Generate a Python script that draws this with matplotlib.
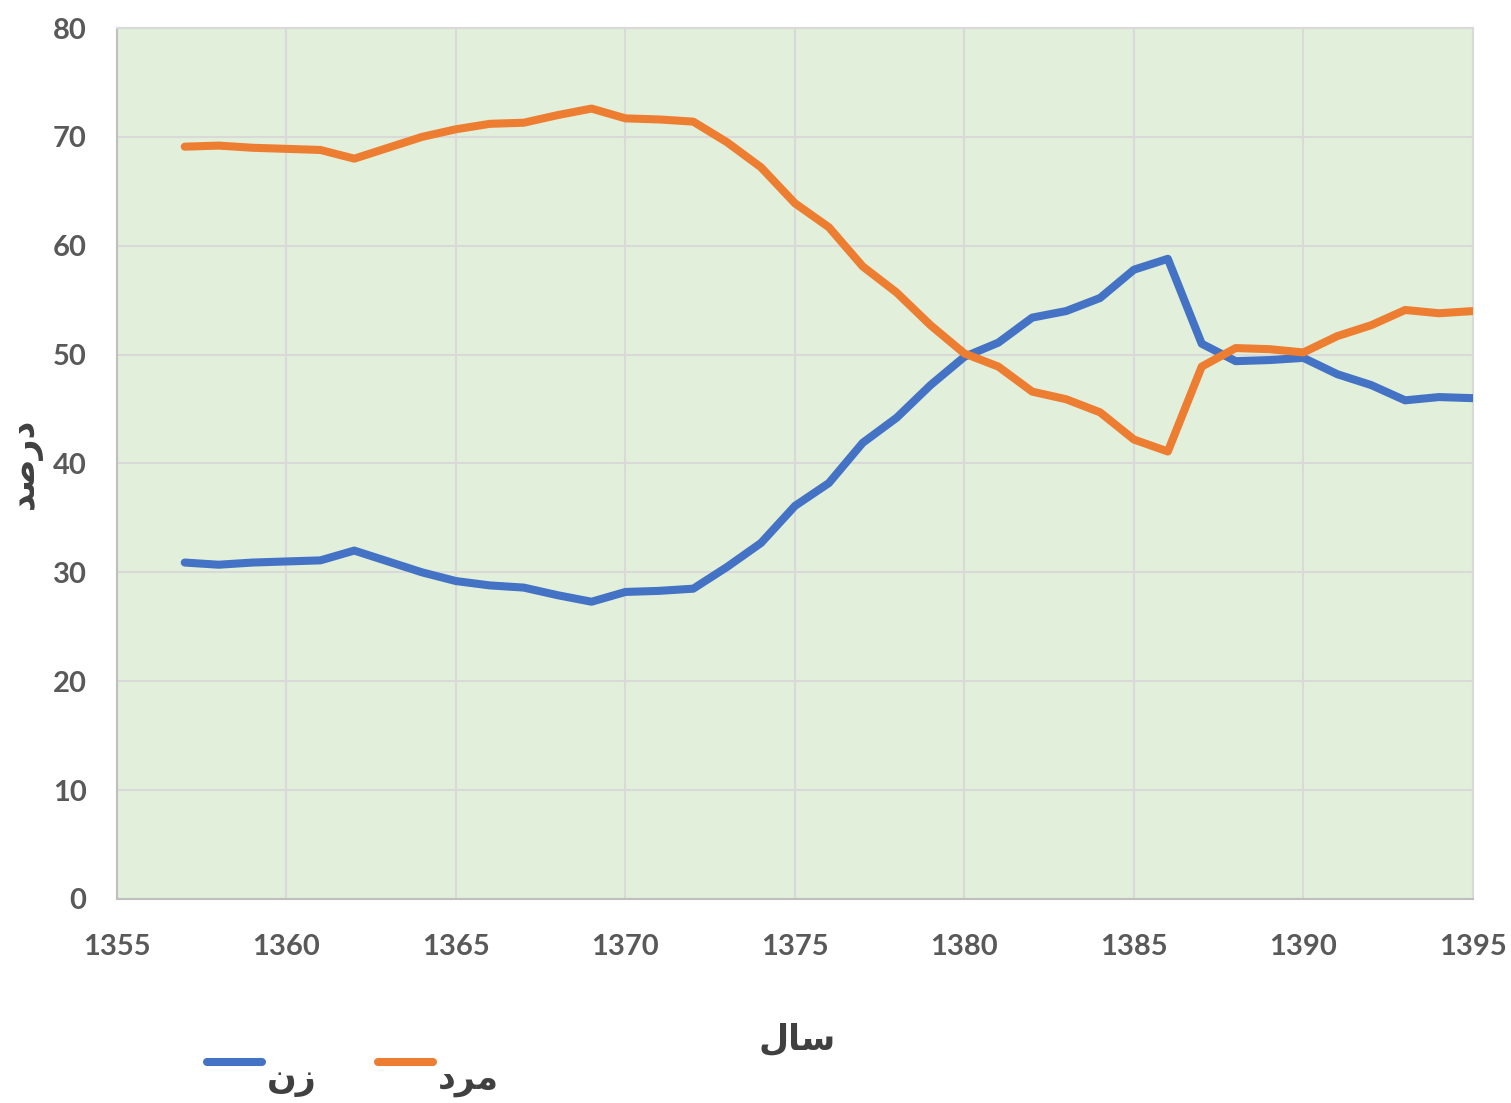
import matplotlib
matplotlib.use("Agg")
import matplotlib.pyplot as plt
from matplotlib.lines import Line2D

years = list(range(1357, 1396))
women = [30.9, 30.7, 30.9, 31.0, 31.1, 32.0, 31.0, 30.0, 29.2, 28.8,
         28.6, 27.9, 27.3, 28.2, 28.3, 28.5, 30.5, 32.7, 36.1, 38.2,
         41.9, 44.2, 47.2, 49.8, 51.1, 53.4, 54.0, 55.2, 57.8, 58.8,
         51.0, 49.4, 49.5, 49.7, 48.2, 47.2, 45.8, 46.1, 46.0]
men = [69.1, 69.2, 69.0, 68.9, 68.8, 68.0, 69.0, 70.0, 70.7, 71.2,
       71.3, 72.0, 72.6, 71.7, 71.6, 71.4, 69.5, 67.2, 63.9, 61.7,
       58.1, 55.7, 52.7, 50.1, 48.9, 46.6, 45.9, 44.7, 42.2, 41.1,
       48.9, 50.6, 50.5, 50.2, 51.7, 52.7, 54.1, 53.8, 54.0]

# Persian labels written in presentation forms, visual order
lbl_women = "\uFEE5\uFEAF"          # زن
lbl_men = "\uFEA9\uFEAE\uFEE3"      # مرد
lbl_x = "\uFEDD\uFE8E\uFEB3"        # سال
lbl_y = "\uFEAA\uFEBB\uFEAD\uFEA9"  # درصد

c_women = "#4472C4"
c_men = "#ED7D31"
tick_color = "#595959"
label_color = "#404040"

fig = plt.figure(figsize=(15.11, 11.03), dpi=100)
ax = fig.add_axes([0.0774, 0.185, 0.8974, 0.7896])
ax.set_facecolor("#E2EFDA")

ax.plot(years, women, color=c_women, lw=5.8, solid_capstyle="round", solid_joinstyle="round", zorder=3)
ax.plot(years, men, color=c_men, lw=5.8, solid_capstyle="round", solid_joinstyle="round", zorder=3)

ax.set_xlim(1355, 1395)
ax.set_ylim(0, 80)
ax.set_xticks(range(1355, 1396, 5))
ax.set_yticks(range(0, 81, 10))
ax.grid(True, color="#D9D9D9", lw=1.5, zorder=0)
ax.set_axisbelow(True)
for s in ax.spines.values():
    s.set_color("#D9D9D9")
    s.set_linewidth(1.5)
ax.spines["bottom"].set_color("#BFBFBF")
ax.spines["left"].set_color("#BFBFBF")
ax.tick_params(length=0, colors=tick_color, labelsize=21)
ax.tick_params(axis="x", pad=25)
ax.tick_params(axis="y", pad=22)
for t in ax.get_xticklabels() + ax.get_yticklabels():
    t.set_fontfamily("Lato")
    t.set_fontweight("bold")

fig.text(797 / 1511, 1 - 1040 / 1103, lbl_x, ha="center", va="center",
         fontsize=25, fontweight="bold", color=label_color, family="DejaVu Sans")
fig.text(25 / 1511, 1 - 463 / 1103, lbl_y, ha="center", va="center", rotation=90,
         fontsize=25, fontweight="bold", color=label_color, family="DejaVu Sans")

# legend drawn below the x-axis label
for x0, x1, tx, col, lab in [(207, 262, 292, c_women, lbl_women),
                             (378, 433, 468, c_men, lbl_men)]:
    fig.add_artist(Line2D([x0 / 1511, x1 / 1511], [1 - 1062 / 1103] * 2,
                          color=col, lw=5.8, solid_capstyle="round",
                          transform=fig.transFigure))
    fig.text(tx / 1511, 1 - 1080 / 1103, lab, ha="center", va="center",
             fontsize=25, fontweight="bold", color=label_color, family="DejaVu Sans")

fig.savefig("out.png", dpi=100, facecolor="white")
